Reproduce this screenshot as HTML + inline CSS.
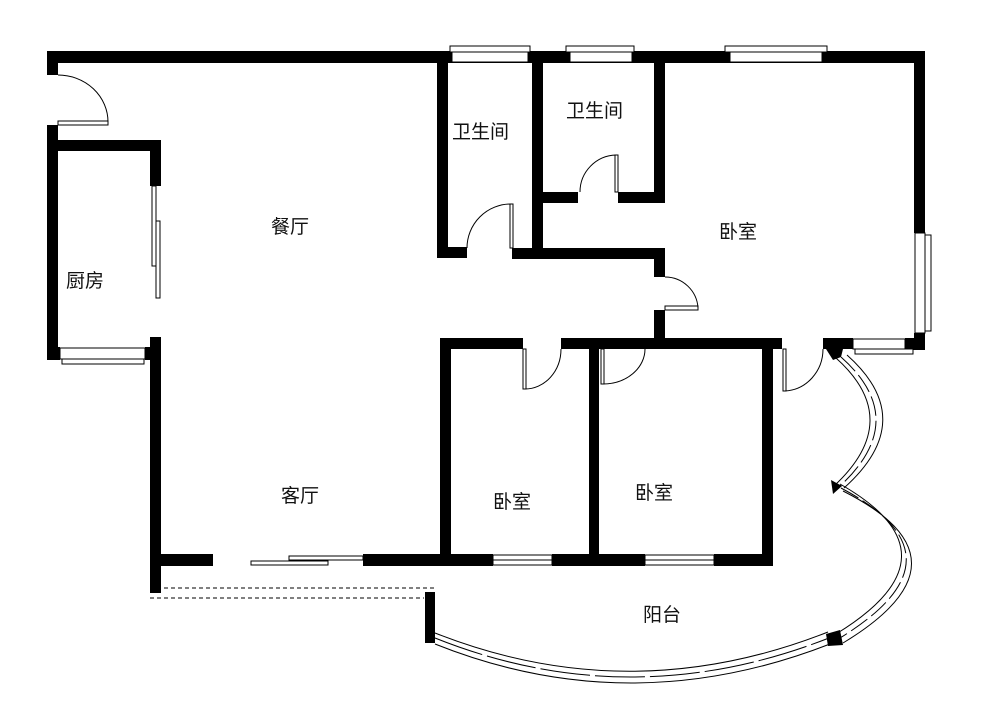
<!DOCTYPE html>
<html><head><meta charset="utf-8"><style>
html,body{margin:0;padding:0;background:#fff;}
svg{display:block}
text{font-family:"Liberation Sans","Noto Sans CJK SC",sans-serif;font-size:19px;fill:#111}
</style></head><body>
<svg width="1000" height="725" viewBox="0 0 1000 725" xmlns="http://www.w3.org/2000/svg">
<rect width="1000" height="725" fill="#fff"/>
<g fill="#000">
<rect x="47" y="51" width="878" height="12"/>
<rect x="47" y="51" width="11" height="24"/>
<rect x="47" y="125" width="11" height="235"/>
<rect x="47" y="140" width="114" height="11"/>
<rect x="150" y="140" width="11" height="46"/>
<rect x="47" y="347" width="13" height="13"/>
<rect x="145" y="347" width="16" height="13"/>
<rect x="150" y="337" width="11" height="256"/>
<rect x="437" y="51" width="11" height="207"/>
<rect x="437" y="247" width="30" height="11"/>
<rect x="512" y="248" width="151" height="11"/>
<rect x="532" y="51" width="11" height="207"/>
<rect x="543" y="192" width="35" height="11"/>
<rect x="618" y="192" width="47" height="11"/>
<rect x="654" y="51" width="11" height="152"/>
<rect x="654" y="248" width="11" height="29"/>
<rect x="654" y="310" width="11" height="39"/>
<rect x="914" y="51" width="11" height="182"/>
<rect x="914" y="333" width="11" height="17"/>
<rect x="440" y="338" width="83" height="11"/>
<rect x="561" y="338" width="94" height="11"/>
<rect x="645" y="338" width="137" height="11"/>
<rect x="823" y="338" width="30" height="11"/>
<rect x="905" y="338" width="20" height="12"/>
<rect x="440" y="338" width="11" height="228"/>
<rect x="589" y="338" width="10" height="228"/>
<rect x="762" y="338" width="11" height="228"/>
<rect x="160" y="554" width="53" height="12"/>
<rect x="363" y="554" width="130" height="12"/>
<rect x="552" y="554" width="93" height="12"/>
<rect x="714" y="554" width="59" height="12"/>
<rect x="425" y="592" width="10" height="51"/>
<polygon points="826,634 840,630 843,645 828,646"/>
<polygon points="831,480 842,486 833,494"/>
<polygon points="826,349 843,349 841,357 833,360"/>
</g>
<g fill="#fff" stroke="#000" stroke-width="1">
<rect x="450" y="46" width="80" height="6"/><rect x="452" y="52" width="76" height="10"/>
<rect x="566" y="46" width="68" height="6"/><rect x="570" y="52" width="62" height="10"/>
<rect x="725" y="46" width="102" height="6"/><rect x="730" y="52" width="92" height="10"/>
<rect x="915" y="233" width="10" height="100"/><rect x="925" y="235" width="6" height="96"/>
<rect x="60" y="348" width="85" height="11"/><rect x="62" y="359" width="82" height="5"/>
<rect x="853" y="339" width="52" height="10"/><rect x="855" y="349" width="58" height="5"/>
<rect x="493" y="555" width="59" height="10"/><line x1="493" y1="560" x2="552" y2="560"/>
<rect x="645" y="555" width="69" height="10"/><line x1="645" y1="560" x2="714" y2="560"/>
<rect x="251" y="561" width="77" height="4"/>
<rect x="289" y="556" width="74" height="4"/>
<rect x="152" y="186" width="4" height="80"/>
<rect x="156" y="221" width="4" height="77"/>
</g>
<g fill="none" stroke="#000" stroke-width="1">
<rect x="58" y="121" width="50" height="4" fill="#fff"/>
<path d="M58,75 A50,47 0 0 1 108,122"/>
<rect x="510" y="204" width="3" height="44"/>
<path d="M467,248 A44,44 0 0 1 511,204"/>
<rect x="615" y="155" width="3" height="37"/>
<path d="M580,192 A37,37 0 0 1 616,155"/>
<rect x="665" y="306" width="33" height="4"/>
<path d="M665,277 A33,33 0 0 1 698,308"/>
<rect x="523" y="349" width="3" height="40"/>
<path d="M525,389 A36,40 0 0 0 561,349"/>
<rect x="601" y="349" width="3" height="35"/>
<path d="M603,384 A42,35 0 0 0 645,349"/>
<rect x="783" y="349" width="3" height="42"/>
<path d="M785,391 A40,42 0 0 0 823,349"/>
<line x1="150" y1="588" x2="436" y2="588" stroke-dasharray="4,3"/>
<line x1="150" y1="598" x2="424" y2="598" stroke-dasharray="4,3"/>
<!-- balcony arc -->
<path d="M435,633 Q630,710 828,632"/>
<path d="M435,644 Q630,722 830,644"/>
<path d="M435,638 Q630,716 829,638" stroke-dasharray="50,5"/>
<!-- curvy wall -->
<path d="M836,358 Q905,420 834,486"/>
<path d="M847,355 Q920,420 844,488"/>
<path d="M841,357 Q912,420 839,487" stroke-dasharray="20,5"/>
<path d="M840,484 Q965,555 836,634"/>
<path d="M843,491 Q980,560 843,643"/>
<path d="M841,488 Q972,557 840,638" stroke-dasharray="20,5"/>
</g>
<text x="271" y="233">餐厅</text>
<text x="452" y="138">卫生间</text>
<text x="566" y="117">卫生间</text>
<text x="719" y="238">卧室</text>
<text x="66" y="287">厨房</text>
<text x="281" y="502">客厅</text>
<text x="493" y="508">卧室</text>
<text x="635" y="499">卧室</text>
<text x="643" y="621">阳台</text>
</svg>
</body></html>
